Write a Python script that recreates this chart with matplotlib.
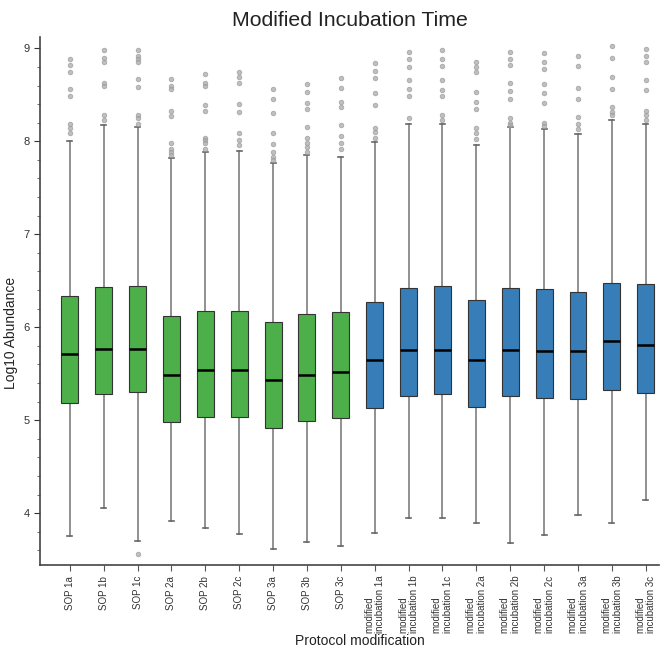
import matplotlib.pyplot as plt
from matplotlib.ticker import MultipleLocator

plt.rcParams['font.family'] = ['Liberation Sans', 'DejaVu Sans']

# sample groups
labels = ['SOP 1a', 'SOP 1b', 'SOP 1c', 'SOP 2a', 'SOP 2b', 'SOP 2c',
          'SOP 3a', 'SOP 3b', 'SOP 3c',
          'modified\nincubation 1a', 'modified\nincubation 1b', 'modified\nincubation 1c',
          'modified\nincubation 2a', 'modified\nincubation 2b', 'modified\nincubation 2c',
          'modified\nincubation 3a', 'modified\nincubation 3b', 'modified\nincubation 3c']
group = ['SOP'] * 9 + ['modified'] * 9

# box summary stats (log10 abundance)
medians = [5.71, 5.77, 5.77, 5.49, 5.54, 5.54, 5.43, 5.49, 5.52,
           5.65, 5.76, 5.76, 5.65, 5.76, 5.74, 5.75, 5.85, 5.81]
q1 = [5.19, 5.28, 5.30, 4.98, 5.03, 5.04, 4.92, 4.99, 5.02,
      5.13, 5.26, 5.28, 5.14, 5.26, 5.24, 5.23, 5.32, 5.29]
q3 = [6.34, 6.43, 6.44, 6.12, 6.17, 6.18, 6.06, 6.14, 6.16,
      6.27, 6.42, 6.44, 6.29, 6.42, 6.41, 6.38, 6.48, 6.46]
whisk_lo = [3.76, 4.06, 3.70, 3.92, 3.84, 3.78, 3.61, 3.69, 3.65,
            3.79, 3.95, 3.95, 3.89, 3.68, 3.77, 3.98, 3.89, 4.14]
whisk_hi = [8.00, 8.17, 8.15, 7.82, 7.88, 7.90, 7.77, 7.85, 7.83,
            7.99, 8.19, 8.19, 7.96, 8.15, 8.13, 8.08, 8.23, 8.19]
outliers = [
    [8.89, 8.82, 8.74, 8.56, 8.49, 8.19, 8.14, 8.09],
    [8.98, 8.90, 8.85, 8.63, 8.60, 8.28, 8.23],
    [8.98, 8.92, 8.89, 8.85, 8.67, 8.58, 8.28, 8.25, 8.19, 3.56],
    [8.67, 8.60, 8.56, 8.33, 8.27, 7.98, 7.92, 7.88, 7.85],
    [8.72, 8.63, 8.60, 8.39, 8.33, 8.04, 8.01, 7.98, 7.92],
    [8.74, 8.69, 8.63, 8.40, 8.32, 8.09, 8.01, 7.96],
    [8.56, 8.46, 8.30, 8.09, 7.97, 7.88, 7.83, 7.80],
    [8.62, 8.53, 8.41, 8.35, 8.15, 8.04, 7.98, 7.94, 7.88],
    [8.68, 8.57, 8.42, 8.37, 8.17, 8.06, 7.98, 7.92],
    [8.84, 8.76, 8.68, 8.52, 8.39, 8.14, 8.10, 8.04],
    [8.96, 8.88, 8.80, 8.66, 8.56, 8.49, 8.25],
    [8.98, 8.89, 8.81, 8.66, 8.55, 8.49, 8.28, 8.23],
    [8.85, 8.80, 8.74, 8.53, 8.42, 8.35, 8.14, 8.09, 8.03],
    [8.96, 8.89, 8.82, 8.63, 8.54, 8.45, 8.25, 8.20, 8.17],
    [8.95, 8.85, 8.78, 8.62, 8.52, 8.41, 8.20, 8.16],
    [8.92, 8.81, 8.57, 8.46, 8.26, 8.19, 8.13],
    [9.02, 8.90, 8.69, 8.56, 8.37, 8.31, 8.28],
    [8.99, 8.92, 8.85, 8.66, 8.55, 8.33, 8.28, 8.23],
]

colors = {'SOP': '#4daf4a', 'modified': '#377eb8'}

stats = []
for i in range(len(labels)):
    stats.append({'med': medians[i], 'q1': q1[i], 'q3': q3[i],
                  'whislo': whisk_lo[i], 'whishi': whisk_hi[i],
                  'fliers': outliers[i], 'label': labels[i]})

fig = plt.figure(figsize=(6.66, 6.52), dpi=100)
ax = fig.add_axes([0.06, 0.133, 0.93, 0.81])

bp = ax.bxp(stats, positions=range(len(labels)), widths=0.5, patch_artist=True,
            boxprops=dict(edgecolor='#333333', linewidth=0.8),
            medianprops=dict(color='black', linewidth=1.8),
            whiskerprops=dict(color='#888888', linewidth=1.3),
            capprops=dict(color='#666666', linewidth=1.2),
            capwidths=0.15,
            flierprops=dict(marker='o', markersize=3.3, markerfacecolor='#aaaaaa',
                            markeredgecolor='#999999', markeredgewidth=0.6, alpha=0.75))
for patch, g in zip(bp['boxes'], group):
    patch.set_facecolor(colors[g])
    patch.set_zorder(3)
for m in bp['medians']:
    m.set_zorder(4)

ax.set_xlim(-0.88, 17.4)
ax.set_ylim(3.44, 9.12)
ax.yaxis.set_major_locator(MultipleLocator(1))
ax.yaxis.set_minor_locator(MultipleLocator(0.2))
ax.set_xticks(range(len(labels)))
ax.set_xticklabels(labels, rotation=90, fontsize=7, color='#333333', ma='left',
                   linespacing=1.15)
ax.tick_params(axis='y', labelsize=8, colors='#333333', length=4)
ax.tick_params(axis='y', which='minor', length=2.5, colors='#555555')
ax.tick_params(axis='x', length=4, colors='#555555', labelcolor='#333333')

for s in ['top', 'right']:
    ax.spines[s].set_visible(False)
for s in ['left', 'bottom']:
    ax.spines[s].set_color('#444444')
    ax.spines[s].set_linewidth(1.2)

ax.set_title('Modified Incubation Time', fontsize=15.3, color='#222222', pad=8)
ax.set_ylabel('Log10 Abundance', fontsize=10, color='#222222')
ax.set_xlabel('Protocol modification', fontsize=10, color='#222222')
ax.yaxis.set_label_coords(-0.036, 0.44)
ax.xaxis.set_label_coords(0.516, -0.13)

fig.savefig('out.png', dpi=100)
